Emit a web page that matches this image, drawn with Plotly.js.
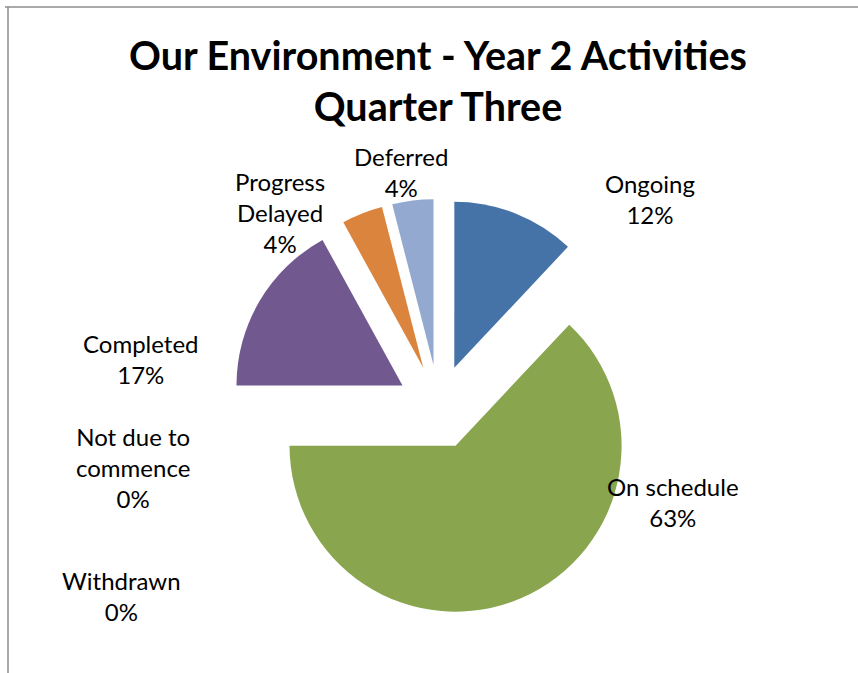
<!DOCTYPE html>
<html>
<head>
<meta charset="utf-8">
<script src="https://cdn.plot.ly/plotly-3.0.1.min.js"></script>
<style>html,body{margin:0;padding:0;background:#fff;}#chart{width:858px;height:673px;}</style>
</head>
<body>
<div id="chart"></div>
<script>
// ---- data ----
const categories = ["Ongoing", "On schedule", "Withdrawn", "Not due to commence", "Completed", "Progress Delayed", "Deferred"];
const displayLabels = ["Ongoing", "On schedule", "Withdrawn", "Not due to<br>commence", "Completed", "Progress<br>Delayed", "Deferred"];
const percents = [12, 63, 0, 0, 17, 4, 4];
const titleText = "Our Environment - Year 2 Activities<br>Quarter Three";

// ---- styling ----
const colors = ["#4572A7", "#89A54E", "#AA4643", "#4198AF", "#71588F", "#DB843D", "#93A9CF"];
const W = 858, H = 673;
// label centres in pixels (layout only)
const labelPos = [[650, 199], [673, 502], [122, 596], [133, 467], [141, 359], [280, 212], [401, 172]];
const px = x => x / W, py = y => 1 - y / H;

const FONT = "Lato, 'Open Sans', sans-serif";

const trace = {
  type: "pie",
  labels: categories,
  values: percents,
  sort: false,
  direction: "clockwise",
  rotation: 0,
  pull: categories.map(() => 0.254),
  marker: { colors: colors, line: { width: 0 } },
  textinfo: "none",
  hoverinfo: "label+percent",
  showlegend: false,
  domain: { x: [px(230.6), px(647.0)], y: [py(615.2), py(198.8)] }
};

const annotations = categories.map((c, i) => ({
  xref: "paper", yref: "paper",
  x: px(labelPos[i][0]), y: py(labelPos[i][1]),
  xanchor: "center", yanchor: "middle",
  text: displayLabels[i] + "<br>" + percents[i] + "%",
  showarrow: false,
  align: "center",
  font: { family: FONT, size: 24, color: "#000" }
}));

const layout = {
  width: W, height: H,
  margin: { l: 0, r: 0, t: 0, b: 0 },
  paper_bgcolor: "#fff",
  showlegend: false,
  title: {
    text: titleText,
    x: px(438), xanchor: "center",
    y: py(70), yanchor: "middle", yref: "container",
    font: { family: FONT, size: 39.5, color: "#000", weight: "bold" }
  },
  annotations: annotations,
  shapes: [
    { type: "line", xref: "paper", yref: "paper", x0: px(5), x1: 1, y0: py(7), y1: py(7), line: { color: "#8c8c8c", width: 1.5 } },
    { type: "line", xref: "paper", yref: "paper", x0: px(8), x1: px(8), y0: py(7), y1: 0, line: { color: "#8c8c8c", width: 1.5 } }
  ]
};

Plotly.newPlot("chart", [trace], layout, { displayModeBar: false, staticPlot: true });
</script>
</body>
</html>
